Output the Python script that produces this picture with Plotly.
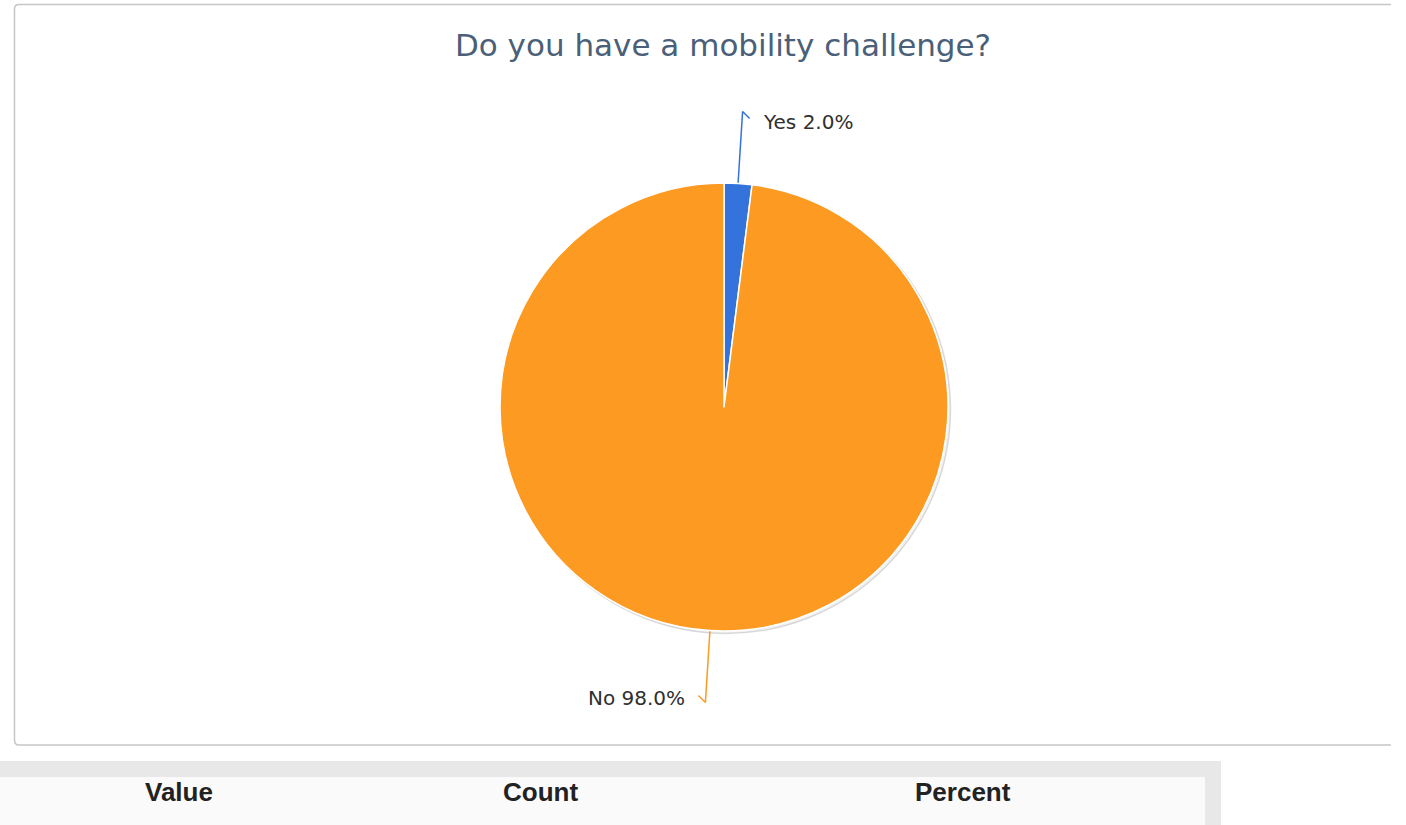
import math
import plotly.graph_objects as go

# ---- data ----
labels = ["Yes", "No"]
values = [2.0, 98.0]
colors = ["#3473db", "#fd9a21"]
title_text = "Do you have a mobility challenge?"
table_columns = ["Value", "Count", "Percent"]

# ---- layout constants (pixels) ----
W, H = 1406, 825
CX, CY, R = 724, 407, 224          # pie centre and radius
CONNECTOR_LEN = 72                 # leader line length beyond the rim
HOOK = 7                           # small hook at the end of each leader
LABEL_GAP = 18
column_centres = [179, 540, 963]


def px_to_paper_x(x):
    return x / W


def px_to_paper_y(y):
    return 1 - y / H


fig = go.Figure()

# pie placed so that its radius is R pixels around (CX, CY)
fig.add_trace(go.Pie(
    labels=labels,
    values=values,
    sort=False,
    direction="clockwise",
    rotation=0,
    marker=dict(colors=colors, line=dict(color="white", width=1.5)),
    textinfo="none",
    hoverinfo="label+percent",
    showlegend=False,
    domain=dict(x=[px_to_paper_x(CX - R), px_to_paper_x(CX + R)],
                y=[px_to_paper_y(CY + R), px_to_paper_y(CY - R)]),
))

# leader lines and outside labels, derived from slice angles
total = sum(values)
cum = 0.0
annotations = []
for lab, val, col in zip(labels, values, colors):
    mid = (cum + val / 2) / total * 2 * math.pi
    cum += val
    s, c = math.sin(mid), math.cos(mid)
    ax, ay = CX + R * s, CY - R * c
    bx, by = CX + (R + CONNECTOR_LEN) * s, CY - (R + CONNECTOR_LEN) * c
    side = 1 if s >= 0 else -1
    vdir = 1 if c > 0 else -1
    hx, hy = bx + side * HOOK, by + vdir * HOOK
    fig.add_trace(go.Scatter(
        x=[ax, bx, hx], y=[ay, by, hy], mode="lines",
        line=dict(color=col, width=1.5), hoverinfo="skip", showlegend=False,
    ))
    pct = val / total * 100
    annotations.append(dict(
        x=bx + side * LABEL_GAP, y=hy + 3, xref="x", yref="y",
        text=f"{lab} {pct:.1f}%", showarrow=False,
        xanchor="left" if side > 0 else "right", yanchor="middle",
        font=dict(family="DejaVu Sans", size=20, color="#2f2f2f"),
    ))

# table header labels
for name, xc in zip(table_columns, column_centres):
    annotations.append(dict(
        x=xc, y=792, xref="x", yref="y", text=f"<b>{name}</b>",
        showarrow=False, xanchor="center", yanchor="middle",
        font=dict(family="Liberation Sans, Arial", size=26, color="#222222"),
    ))

shapes = [
    # chart panel border (open on the right)
    dict(type="path", xref="x", yref="y", layer="below",
         path="M 1391,4.5 L 19,4.5 Q 14.5,4.5 14.5,9 L 14.5,740 Q 14.5,745 19,745 L 1391,745",
         line=dict(color="#c6c6c6", width=1.5)),
    # soft shadow behind the pie
    dict(type="circle", xref="x", yref="y", layer="below",
         x0=CX - R + 2, x1=CX + R + 2.5, y0=CY - R + 2, y1=CY + R + 2.5,
         fillcolor="rgba(0,0,0,0.05)", line=dict(color="rgba(0,0,0,0.13)", width=1.5)),
    # table header band
    dict(type="rect", xref="x", yref="y", layer="below",
         x0=0, x1=1221, y0=761, y1=H + 5, fillcolor="#e8e8e8", line=dict(width=0)),
    dict(type="rect", xref="x", yref="y", layer="below",
         x0=0, x1=1205, y0=777, y1=H + 5, fillcolor="#fafafa", line=dict(width=0)),
]

fig.update_layout(
    width=W, height=H,
    margin=dict(l=0, r=0, t=0, b=0),
    paper_bgcolor="white",
    plot_bgcolor="rgba(0,0,0,0)",
    xaxis=dict(range=[0, W], visible=False, fixedrange=True),
    yaxis=dict(range=[H, 0], visible=False, fixedrange=True),
    title=dict(text=title_text, x=px_to_paper_x(723), y=px_to_paper_y(45),
               xanchor="center", yanchor="middle", xref="paper", yref="paper",
               font=dict(family="DejaVu Sans", size=31, color="#4b5f78")),
    annotations=annotations,
    shapes=shapes,
)

fig.write_html("out.html")
